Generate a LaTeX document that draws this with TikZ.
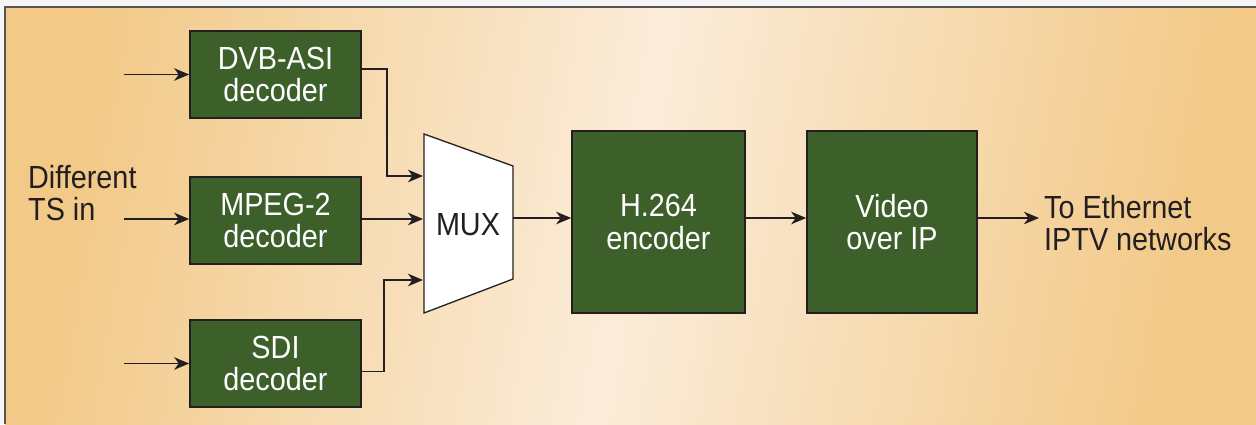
\documentclass[tikz,border=0pt]{standalone}
\usepackage{fontspec}
\setmainfont{Liberation Sans}[FakeStretch=0.9]
\usetikzlibrary{arrows.meta,calc}
\definecolor{boxgreen}{HTML}{3D5F2A}
\definecolor{ink}{HTML}{231F20}
\definecolor{bgorange}{HTML}{F2C987}
\definecolor{bglight}{HTML}{FBECD9}
\definecolor{framegray}{HTML}{555555}
\definecolor{outside}{HTML}{F6F6F6}
\begin{document}
\begin{tikzpicture}[x=1pt,y=-1pt,
  blk/.style={draw=ink, line width=1.6pt, fill=boxgreen, text=white, inner sep=0pt,
    align=center, font=\fontsize{32}{32.5}\selectfont},
  lbl/.style={text=ink, inner sep=0pt, align=left, font=\fontsize{32}{32.5}\selectfont},
  arr/.style={draw=ink, line width=1.8pt, -{Stealth[length=15pt,width=12.5pt,inset=4.5pt]}},
]
\useasboundingbox (0,0) rectangle (1256,424);
\fill[outside] (0,0) rectangle (1256,424);
\shade[left color=bgorange, right color=bgorange, middle color=bglight, shading angle=80]
  (5,7) rectangle (1256,424);
\draw[framegray, line width=2pt] (5,424) -- (5,7) -- (1256,7);

% decoders
\node[blk, minimum width=171pt, minimum height=87pt] (dvb) at (275.5,74.5) {DVB-ASI\\decoder};
\node[blk, minimum width=171pt, minimum height=87pt] (mpeg) at (275.5,220.5) {MPEG-2\\decoder};
\node[blk, minimum width=171pt, minimum height=87pt] (sdi) at (275.5,363.5) {SDI\\decoder};

% mux
\draw[ink, line width=1.3pt, fill=white] (424,134) -- (513,166) -- (513,279) -- (424,313) -- cycle;
\node[text=ink, inner sep=0pt, font=\fontsize{32}{32.5}\selectfont] (mux) at (468,225) {MUX};
\coordinate (min1) at (423,176);
\coordinate (min2) at (423,219);
\coordinate (min3) at (423,280);
\coordinate (muxout) at (513,218);

% encoder and IP
\node[blk, minimum width=173pt, minimum height=182pt] (h264) at (658.5,222) {H.264\\encoder};
\node[blk, minimum width=170pt, minimum height=182pt] (video) at (892,222) {Video\\over IP};
\coordinate (outend) at (1039,218);

% labels
\node[lbl, anchor=west] (tsin) at (28,193) {Different\\TS in};
\node[lbl, anchor=west] (eth) at (1044,223) {To Ethernet\\IPTV networks};

% input arrows
\draw[arr] ([xshift=-65pt]dvb.west) -- (dvb.west);
\draw[arr] ([xshift=-65pt,yshift=1.5pt]mpeg.west) -- ([yshift=1.5pt]mpeg.west);
\draw[arr] ([xshift=-65pt]sdi.west) -- (sdi.west);

% to mux
\draw[arr] ([yshift=5.5pt]dvb.east) -- ++(25,0) |- (min1);
\draw[arr] ([yshift=1.5pt]mpeg.east) -- (min2);
\draw[arr] ([yshift=-8pt]sdi.east) -- ++(22,0) |- (min3);

% chain
\draw[arr] (muxout) -- (muxout -| h264.west);
\draw[arr] ([yshift=4pt]h264.east) -- ([yshift=4pt]video.west);
\draw[arr] ([yshift=4pt]video.east) -- (outend);
\end{tikzpicture}
\end{document}
